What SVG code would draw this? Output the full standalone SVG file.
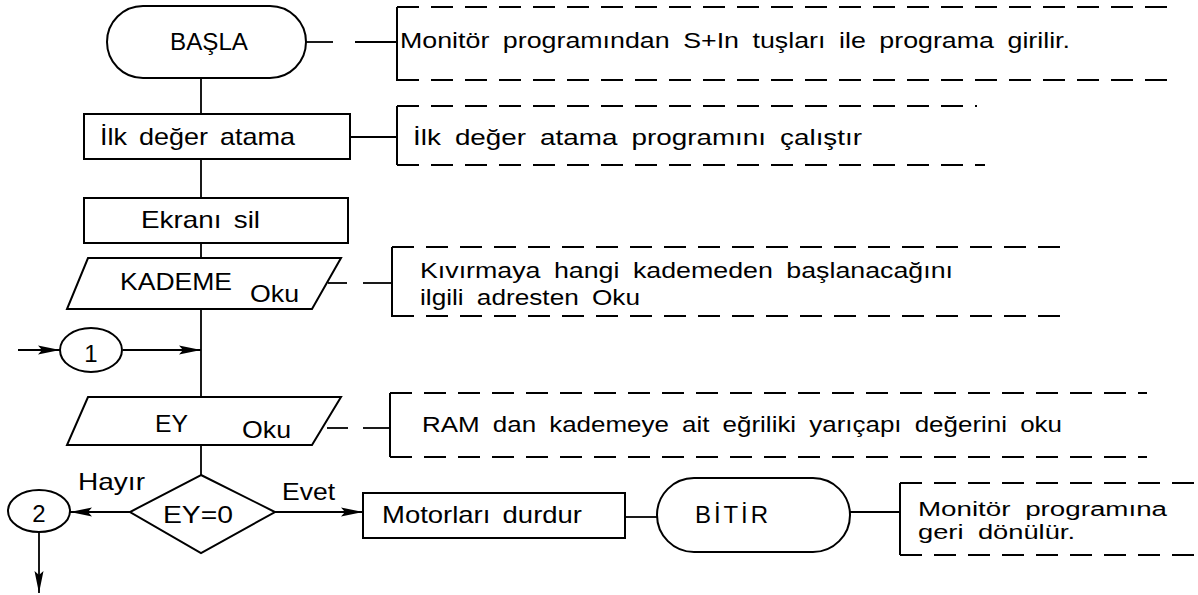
<svg xmlns="http://www.w3.org/2000/svg" width="1198" height="595" viewBox="0 0 1198 595">
<defs>
<style>
.s{fill:none;stroke:#000;stroke-width:2}
.l{fill:none;stroke:#000;stroke-width:1.8}
.d{fill:none;stroke:#000;stroke-width:2;stroke-dasharray:22 12}
.t{font-family:"Liberation Sans",Arial,sans-serif;font-size:24px;word-spacing:4px;fill:#000}
.a{font-family:"Liberation Sans",Arial,sans-serif;font-size:22px;word-spacing:5px;fill:#000}
.b{font-family:"Liberation Sans",Arial,sans-serif;font-size:20px;word-spacing:5px;fill:#000}
</style>
<marker id="ah" markerWidth="22" markerHeight="10" refX="22" refY="5" orient="auto" markerUnits="userSpaceOnUse">
<path d="M0,0.5 L22,5 L0,9.5 L4,5 Z" fill="#000"/>
</marker>
</defs>
<rect width="1198" height="595" fill="#fff"/>

<g id="connectors">
<line class="l" x1="201" y1="78" x2="201" y2="114"/>
<line class="l" x1="201" y1="159" x2="201" y2="198"/>
<line class="l" x1="201" y1="243" x2="201" y2="258"/>
<line class="l" x1="201" y1="309" x2="201" y2="397"/>
<line class="l" x1="201" y1="445" x2="201" y2="475"/>
<line class="l" x1="18" y1="350" x2="60" y2="350" marker-end="url(#ah)"/>
<line class="l" x1="123" y1="350" x2="201" y2="350" marker-end="url(#ah)"/>
<line class="l" x1="130" y1="512" x2="70" y2="512" marker-end="url(#ah)"/>
<line class="l" x1="39" y1="532" x2="39" y2="593" marker-end="url(#ah)"/>
<line class="l" x1="275" y1="512" x2="363" y2="512" marker-end="url(#ah)"/>
<line class="l" x1="625" y1="517" x2="657" y2="517"/>
<line class="l" x1="306" y1="42" x2="333" y2="42"/>
<line class="l" x1="355" y1="42" x2="397" y2="42"/>
<line class="l" x1="350" y1="137" x2="397" y2="137"/>
<line class="l" x1="328" y1="283" x2="347" y2="283"/>
<line class="l" x1="363" y1="283" x2="392" y2="283"/>
<line class="l" x1="327" y1="428" x2="348" y2="428"/>
<line class="l" x1="363" y1="428" x2="390" y2="428"/>
<line class="l" x1="850" y1="512" x2="900" y2="512"/>
</g>

<g id="basla">
<rect class="s" x="107" y="6" width="199" height="72" rx="36" ry="36"/>
<text class="t" x="170" y="50" textLength="78" lengthAdjust="spacingAndGlyphs">BAŞLA</text>
</g>

<g id="ilk-deger">
<rect class="s" x="84" y="114" width="266" height="45"/>
<text class="t" x="100" y="145" textLength="195" lengthAdjust="spacingAndGlyphs">İlk değer atama</text>
</g>

<g id="ekrani-sil">
<rect class="s" x="84" y="198" width="264" height="45"/>
<text class="t" x="141" y="228" textLength="119" lengthAdjust="spacingAndGlyphs">Ekranı sil</text>
</g>

<g id="kademe-oku">
<polygon class="s" points="88,258 341,258 312,309 67,309"/>
<text class="t" x="120" y="290" textLength="112" lengthAdjust="spacingAndGlyphs">KADEME</text>
<text class="t" x="250" y="302" textLength="49" lengthAdjust="spacingAndGlyphs">Oku</text>
</g>

<g id="con1">
<ellipse class="s" cx="91" cy="350" rx="31" ry="22"/>
<text class="t" x="91" y="362" text-anchor="middle">1</text>
</g>

<g id="ey-oku">
<polygon class="s" points="88,397 341,397 312,445 67,445"/>
<text class="t" x="155" y="432" textLength="33" lengthAdjust="spacingAndGlyphs">EY</text>
<text class="t" x="242" y="438" textLength="49" lengthAdjust="spacingAndGlyphs">Oku</text>
</g>

<g id="karar">
<polygon class="s" points="201,475 275,512 201,553 130,512"/>
<text class="t" x="163" y="523" textLength="70" lengthAdjust="spacingAndGlyphs">EY=0</text>
</g>

<g id="con2">
<ellipse class="s" cx="39" cy="511" rx="31" ry="21"/>
<text class="t" x="39" y="522" text-anchor="middle">2</text>
</g>

<g id="labels">
<text class="t" x="78" y="490" textLength="67" lengthAdjust="spacingAndGlyphs">Hayır</text>
<text class="t" x="282" y="500" textLength="53" lengthAdjust="spacingAndGlyphs">Evet</text>
</g>

<g id="motorlar">
<rect class="s" x="363" y="493" width="262" height="45"/>
<text class="t" x="382" y="523" textLength="200" lengthAdjust="spacingAndGlyphs">Motorları durdur</text>
</g>

<g id="bitir">
<rect class="s" x="657" y="478" width="193" height="74" rx="37" ry="37"/>
<text class="t" x="695" y="523" textLength="73" lengthAdjust="spacing">BİTİR</text>
</g>

<g id="not1">
<line class="s" x1="397" y1="7" x2="397" y2="81"/>
<line class="d" x1="397" y1="7" x2="1170" y2="7"/>
<line class="d" x1="397" y1="80" x2="1170" y2="80"/>
<text class="a" x="400" y="48" textLength="670" lengthAdjust="spacingAndGlyphs">Monitör programından S+In tuşları ile programa girilir.</text>
</g>

<g id="not2">
<line class="s" x1="397" y1="106" x2="397" y2="165"/>
<line class="d" x1="397" y1="106" x2="977" y2="106"/>
<line class="d" x1="397" y1="165" x2="985" y2="165"/>
<text class="a" x="413" y="145" textLength="449" lengthAdjust="spacingAndGlyphs">İlk değer atama programını çalıştır</text>
</g>

<g id="not3">
<line class="s" x1="392" y1="247" x2="392" y2="317"/>
<line class="d" x1="392" y1="247" x2="1070" y2="247"/>
<line class="d" x1="392" y1="316" x2="1062" y2="316"/>
<text class="a" x="420" y="278" textLength="533" lengthAdjust="spacingAndGlyphs">Kıvırmaya hangi kademeden başlanacağını</text>
<text class="a" x="420" y="305" textLength="220" lengthAdjust="spacingAndGlyphs">ilgili adresten Oku</text>
</g>

<g id="not4">
<line class="s" x1="390" y1="393" x2="390" y2="457"/>
<line class="d" x1="390" y1="393" x2="1147" y2="393"/>
<line class="d" x1="390" y1="457" x2="1147" y2="457"/>
<text class="a" x="422" y="432" textLength="640" lengthAdjust="spacingAndGlyphs">RAM dan kademeye ait eğriliki yarıçapı değerini oku</text>
</g>

<g id="not5">
<line class="s" x1="900" y1="483" x2="900" y2="555"/>
<line class="d" x1="900" y1="483" x2="1198" y2="483"/>
<line class="d" x1="900" y1="555" x2="1198" y2="555"/>
<text class="b" x="918" y="516" textLength="249" lengthAdjust="spacingAndGlyphs">Monitör programına</text>
<text class="b" x="918" y="539" textLength="157" lengthAdjust="spacingAndGlyphs">geri dönülür.</text>
</g>
</svg>
